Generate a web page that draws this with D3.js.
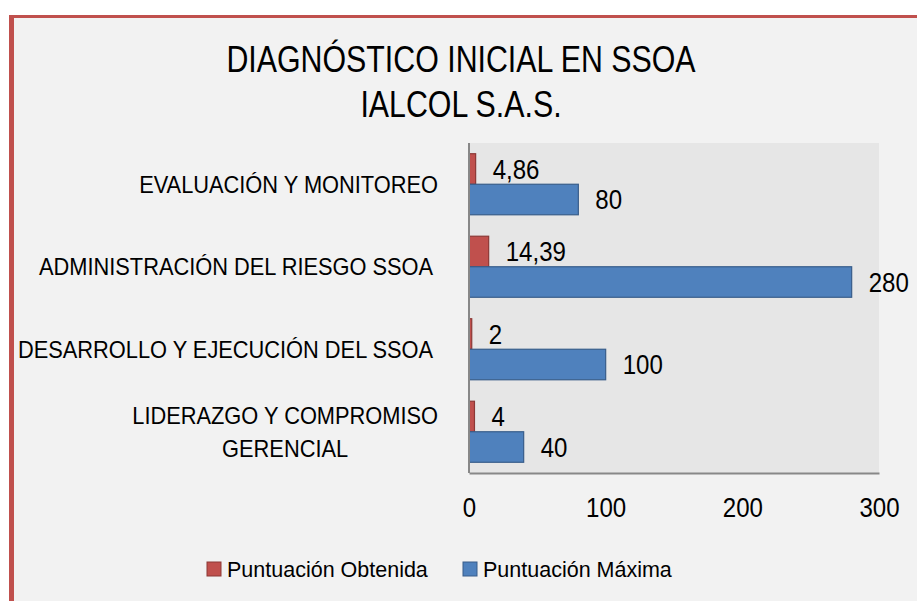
<!DOCTYPE html>
<html>
<head>
<meta charset="utf-8">
<script src="https://cdnjs.cloudflare.com/ajax/libs/d3/7.8.5/d3.min.js"></script>
<style>
  body { margin: 0; background: #fff; }
  text { font-family: "Liberation Sans", Arial, sans-serif; fill: #000; }
</style>
</head>
<body>
<svg id="chart" width="917" height="601"></svg>
<script>
// data
var categories = [
  ["EVALUACIÓN Y MONITOREO"],
  ["ADMINISTRACIÓN DEL RIESGO SSOA "],
  ["DESARROLLO Y EJECUCIÓN DEL SSOA "],
  ["LIDERAZGO Y COMPROMISO", "GERENCIAL"]
];
var obtenida = [4.86, 14.39, 2, 4];
var maxima = [80, 280, 100, 40];
var seriesNames = ["Puntuación Obtenida", "Puntuación Máxima"];
var seriesColors = ["#c0504d", "#4f81bd"];
var seriesStroke = ["#8c3836", "#385d8a"];
var xTicks = [0, 100, 200, 300];
var titleLines = ["DIAGNÓSTICO INICIAL EN SSOA", "IALCOL S.A.S."];

var svg = d3.select('#chart');

// squeeze a text horizontally around its own x (no narrow font installed)
function condense(sel, sx) {
  sel.attr('transform', function() {
    var x0 = +this.getAttribute('x') || 0;
    return 'translate(' + x0 + ',0) scale(' + sx + ',1) translate(' + (-x0) + ',0)';
  });
}

// chart frame
svg.append('rect')
  .attr('x', 9).attr('y', 15).attr('width', 920).attr('height', 600)
  .style('fill', '#f2f2f2');
svg.append('rect')
  .attr('x', 9).attr('y', 15).attr('width', 920).attr('height', 3)
  .style('fill', '#c0504d');
svg.append('rect')
  .attr('x', 9).attr('y', 15).attr('width', 5).attr('height', 600)
  .style('fill', '#c0504d');

// title
svg.append('g').selectAll('text')
  .data(titleLines)
  .enter().append('text')
  .attr('x', 461)
  .attr('y', function(d, i) { return 72 + i * 45.5; })
  .attr('text-anchor', 'middle')
  .style('font-size', '37px')
  .text(function(d) { return d; })
  .call(condense, 0.82);

var plot = {left: 469, right: 879, top: 143, bottom: 473};

var x = d3.scaleLinear().domain([0, 300]).range([plot.left, plot.right]);
var y = d3.scaleBand().domain(d3.range(categories.length))
  .range([plot.top, plot.bottom]).paddingInner(0.26).paddingOuter(0.13);
var ySub = d3.scaleBand().domain([0, 1]).range([0, y.bandwidth()]);

svg.append('rect')
  .attr('x', plot.left).attr('y', plot.top)
  .attr('width', plot.right - plot.left).attr('height', plot.bottom - plot.top)
  .style('fill', '#e6e6e6');

// bars
var series = [obtenida, maxima];
var fmt = function(v) { return String(v).replace('.', ','); };
series.forEach(function(vals, s) {
  var g = svg.append('g');
  g.selectAll('rect')
    .data(vals)
    .enter().append('rect')
    .attr('x', x(0))
    .attr('y', function(d, i) { return y(i) + ySub(s); })
    .attr('width', function(d) { return x(d) - x(0); })
    .attr('height', ySub.bandwidth())
    .style('fill', seriesColors[s])
    .style('stroke', seriesStroke[s])
    .style('stroke-width', 1.2);
  g.selectAll('text')
    .data(vals)
    .enter().append('text')
    .attr('x', function(d) { return x(d) + 17; })
    .attr('y', function(d, i) { return y(i) + ySub(s) + ySub.bandwidth() / 2; })
    .attr('dy', '0.35em')
    .style('font-size', '28px')
    .text(fmt)
    .call(condense, 0.86);
});

// axes
var xAxis = svg.append('g')
  .attr('transform', 'translate(0,' + plot.bottom + ')')
  .call(d3.axisBottom(x).tickValues(xTicks).tickSize(0).tickPadding(24));
xAxis.select('.domain').style('stroke', '#888').style('stroke-width', 2);
xAxis.selectAll('text')
  .style('font-size', '28px')
  .style('font-family', '"Liberation Sans", Arial, sans-serif')
  .attr('transform', 'scale(0.86,1)');

svg.append('line')
  .attr('x1', plot.left).attr('x2', plot.left)
  .attr('y1', plot.top).attr('y2', plot.bottom)
  .style('stroke', '#888').style('stroke-width', 2);

// category labels, block right-aligned, lines centred inside it
var labelRight = 438, labelSx = 0.89;
categories.forEach(function(lines, i) {
  var g = svg.append('g');
  var texts = g.selectAll('text')
    .data(lines)
    .enter().append('text')
    .style('font-size', '24.5px')
    .style('white-space', 'pre')
    .attr('text-anchor', 'middle')
    .attr('dy', '0.35em')
    .text(function(d) { return d; });
  var w = 0;
  texts.each(function() { w = Math.max(w, this.getComputedTextLength()); });
  var cy = y(i) + y.bandwidth() / 2;
  var lh = 33;
  texts
    .attr('x', labelRight - w * labelSx / 2)
    .attr('y', function(d, k) { return cy + (k - (lines.length - 1) / 2) * lh; })
    .call(condense, labelSx);
});

// legend
var legend = svg.append('g');
var legendX = [207, 463];
seriesNames.forEach(function(name, s) {
  legend.append('rect')
    .attr('x', legendX[s]).attr('y', 562)
    .attr('width', 14).attr('height', 14)
    .style('fill', seriesColors[s])
    .style('stroke', seriesStroke[s]);
  legend.append('text')
    .attr('x', legendX[s] + 20).attr('y', 577)
    .style('font-size', '21.5px')
    .text(name);
});
</script>
</body>
</html>
